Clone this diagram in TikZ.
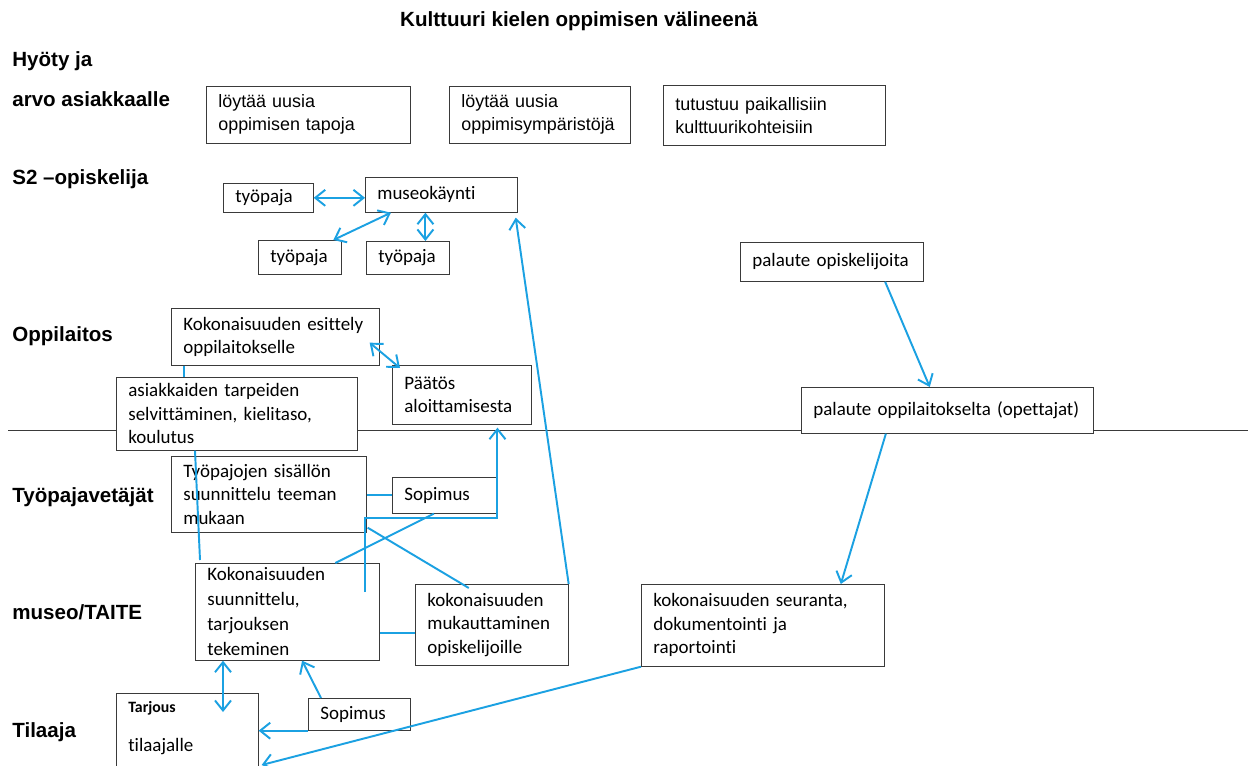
\documentclass[tikz,border=0pt]{standalone}
\usepackage{fontspec}
\setmainfont{Carlito}[Ligatures=CommonOff]
\newfontfamily\arialfont{Liberation Sans}
\usetikzlibrary{arrows.meta,calc}
\definecolor{linkblue}{HTML}{1BA1E2}
\definecolor{boxline}{HTML}{3A3A3A}

\begin{document}
\begin{tikzpicture}[x=0.02cm, y=-0.02cm,
    box/.style={draw=boxline, fill=white, anchor=north west, align=left, inner xsep=0.24cm, inner ysep=0pt,
                font=\fontsize{10.8}{13.4}\selectfont},
    topbox/.style={box, font=\arialfont\fontsize{10.2}{13.1}\selectfont},
    lane/.style={anchor=base west, inner sep=0pt, font=\arialfont\bfseries\fontsize{11.7}{14}\selectfont},
    lnk/.style={linkblue, line width=1.1pt},
    arr/.style={lnk, -{Straight Barb[length=2mm,width=3.2mm]}},
    dbl/.style={lnk, {Straight Barb[length=2mm,width=3.2mm]}-{Straight Barb[length=2mm,width=3.2mm]}}]
  \path[use as bounding box, fill=white] (0,0) rectangle (1253,766);
  \node[lane, anchor=base] (title) at (579,27) {Kulttuuri kielen oppimisen välineenä};
  \node[lane] (hyoty) at (12,67) {Hyöty ja};
  \node[lane] (arvo) at (12,107) {arvo asiakkaalle};
  \node[lane] (s2) at (12,185) {S2 –opiskelija};
  \node[lane] (oppil) at (12,342) {Oppilaitos};
  \node[lane] (vetajat) at (12,502) {Työpajavetäjät};
  \node[lane] (taite) at (12,619) {museo/TAITE};
  \node[lane] (tilaaja) at (12,737) {Tilaaja};
  \coordinate (divL) at (8,430);
  \coordinate (divR) at (1248,430);
  \draw[boxline] (divL) -- (divR);
  \node[topbox, text width=3.60cm, minimum height=1.14cm] (b1) at (206,86) {löytää uusia\\oppimisen tapoja};
  \node[topbox, text width=3.14cm, minimum height=1.14cm] (b2) at (449,86) {löytää uusia\\oppimisympäristöjä};
  \node[topbox, text width=3.96cm, minimum height=1.20cm] (b3) at (663,85) {tutustuu paikallisiin\\kulttuurikohteisiin};
  \node[box, text width=1.32cm, minimum height=0.58cm] (tp1) at (223,183) {työpaja};
  \node[box, text width=2.56cm, minimum height=0.70cm] (museo) at (365,177) {museokäynti};
  \node[box, text width=1.18cm, minimum height=0.68cm] (tp2) at (258,240) {työpaja};
  \node[box, text width=1.18cm, minimum height=0.66cm] (tp3) at (366,241) {työpaja};
  \node[box, text width=3.18cm, minimum height=0.78cm] (pal1) at (740,242) {palaute opiskelijoita};
  \node[box, text width=3.68cm, minimum height=1.14cm] (esittely) at (171,308) {Kokonaisuuden esittely\\oppilaitokselle};
  \node[box, text width=4.34cm, minimum height=1.46cm] (asiak) at (116,377) {asiakkaiden tarpeiden\\selvittäminen, kielitaso,\\koulutus};
  \node[box, text width=2.30cm, minimum height=1.18cm] (paatos) at (392,365) {Päätös\\aloittamisesta};
  \node[box, text width=5.36cm, minimum height=0.92cm] (pal2) at (801,387) {palaute oppilaitokselta (opettajat)};
  \node[box, text width=3.42cm, minimum height=1.52cm] (tyop) at (171,456) {Työpajojen sisällön\\suunnittelu teeman\\mukaan};
  \node[box, text width=1.60cm, minimum height=0.72cm] (sop1) at (392,477) {Sopimus};
  \node[box, text width=3.20cm, minimum height=1.94cm, font=\fontsize{10.8}{14.2}\selectfont] (kok) at (195,563) {Kokonaisuuden\\suunnittelu,\\tarjouksen\\tekeminen};
  \node[box, text width=2.58cm, minimum height=1.62cm] (muk) at (415,584) {kokonaisuuden\\mukauttaminen\\opiskelijoille};
  \node[box, text width=4.38cm, minimum height=1.64cm] (seur) at (641,584) {kokonaisuuden seuranta,\\dokumentointi ja\\raportointi};
  \node[box, text width=2.36cm, minimum height=2.0cm] (tarj) at (116,693) {{\fontsize{9}{11}\selectfont\bfseries Tarjous}\\[9pt]tilaajalle\\[6pt]\mbox{}};
  \node[box, text width=1.56cm, minimum height=0.64cm] (sop2) at (308,698) {Sopimus};
  \draw[dbl] (tp1.east) -- (museo.west |- tp1.east);
  \draw[dbl] ($(museo.south west)!0.17!(museo.south east)$) -- ($(tp2.north west)!0.9!(tp2.north east)$);
  \coordinate (m3) at ($(tp3.north west)!0.71!(tp3.north east)$);
  \draw[dbl] (m3 |- museo.south) -- (m3);
  \draw[arr] (muk.north east) -- ($(museo.south east)+(-2,5)$);
  \draw[arr] ($(pal1.south west)!0.79!(pal1.south east)$) -- ($(pal2.north west)!0.44!(pal2.north east)$);
  \draw[arr] ($(pal2.south west)!0.29!(pal2.south east)$) -- ($(seur.north west)!0.82!(seur.north east)$);
  \draw[arr] (seur.south west) -- ($(tarj.north east)+(3,72)$);
  \draw[dbl] ($(esittely.south east)+(-10,-23)$) -- ($(paatos.north west)+(8,3)$);
  \coordinate (e1) at ($(esittely.south west)+(13,0)$);
  \draw[lnk] (e1) -- (e1 |- asiak.north);
  \draw[lnk] ($(asiak.south west)+(79,0)$) -- ($(kok.north west)+(5,-3)$);
  \draw[lnk] (sop1.west) -- (sop1.west -| tyop.east);
  \draw[lnk] ($(sop1.south west)!0.4!(sop1.south east)$) -- ($(kok.north west)!0.76!(kok.north east)$);
  \draw[lnk] ($(tyop.south east)+(1,-5)$) -- ($(muk.north west)!0.35!(muk.north east)+(0,4)$);
  \coordinate (k1) at ($(kok.north east)+(-15,29)$);
  \coordinate (p1) at ($(paatos.south west)!0.755!(paatos.south east)+(0,3)$);
  \draw[arr] (k1) |- ($(p1 |- sop1.south)+(0,4)$) -- (p1);
  \coordinate (m1) at ($(muk.west)+(0,8)$);
  \draw[lnk] (m1) -- (m1 -| kok.east);
  \coordinate (t1) at ($(tarj.north west)+(107,19)$);
  \draw[dbl] (t1 |- kok.south) -- (t1);
  \draw[arr] ($(sop2.north west)+(13,0)$) -- ($(kok.south west)!0.58!(kok.south east)$);
  \draw[arr] (sop2.south west) -- (sop2.south west -| tarj.east);
\end{tikzpicture}
\end{document}
